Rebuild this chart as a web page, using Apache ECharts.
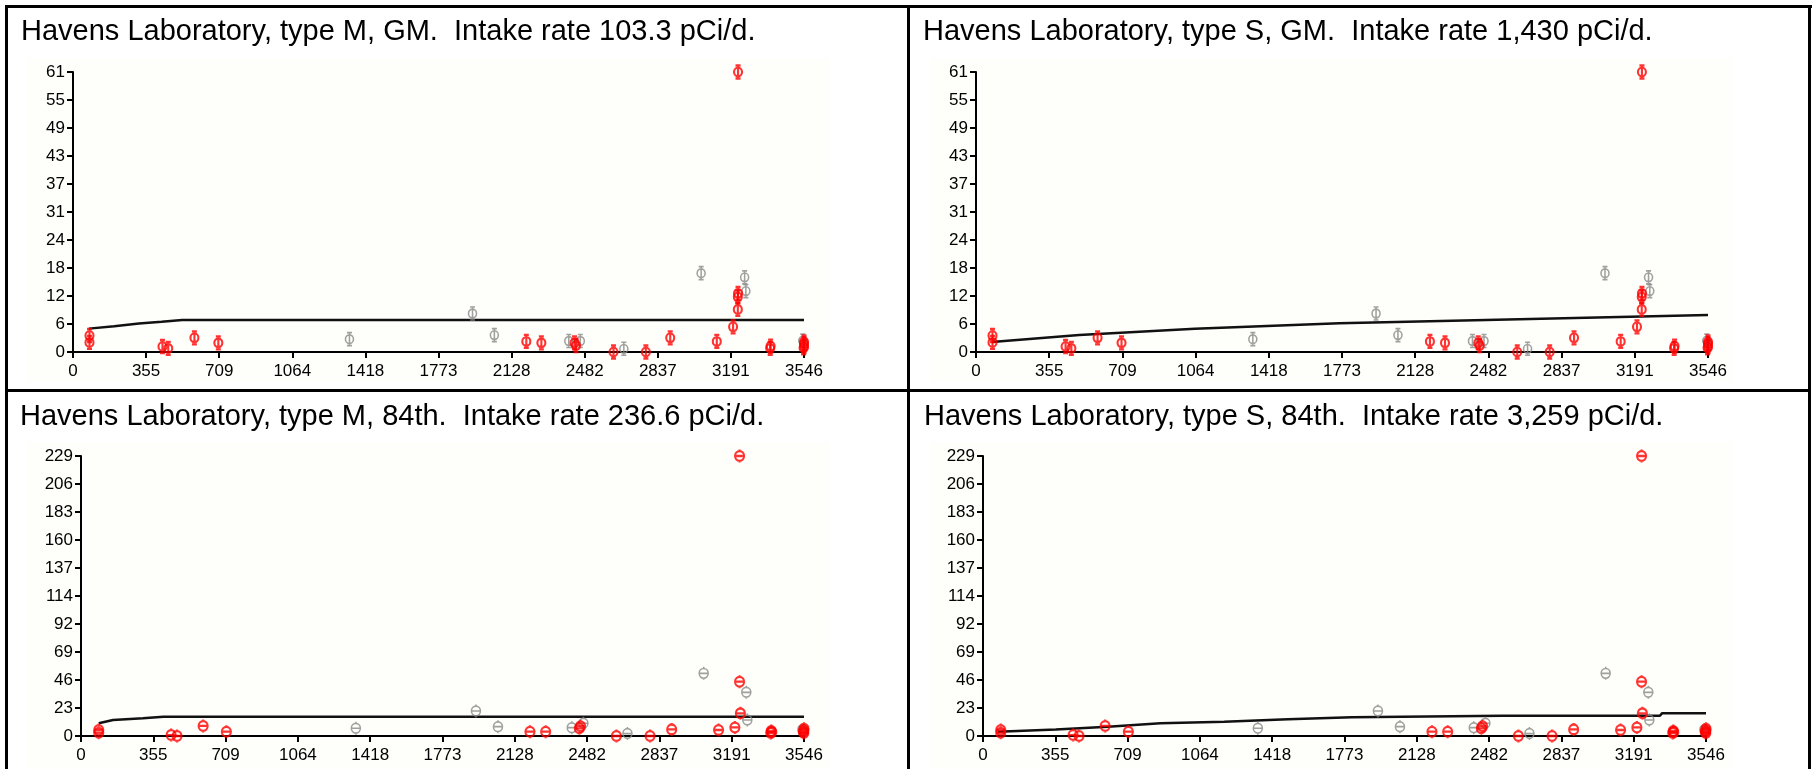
<!DOCTYPE html>
<html><head><meta charset="utf-8">
<script src="https://cdn.jsdelivr.net/npm/echarts/dist/echarts.min.js"></script>
<style>html,body{margin:0;padding:0;background:#fff}#c{width:1815px;height:769px}</style>
</head><body><div id="c"></div>
<script>
// ---- data ----
const titles = [
  'Havens Laboratory, type M, GM.  Intake rate 103.3 pCi/d.',
  'Havens Laboratory, type S, GM.  Intake rate 1,430 pCi/d.',
  'Havens Laboratory, type M, 84th.  Intake rate 236.6 pCi/d.',
  'Havens Laboratory, type S, 84th.  Intake rate 3,259 pCi/d.'
];
const xMax = 3546;
const yMaxGM = 61.1;
const yMax84 = 228.8;

// observations (GM): [time, value]
const gmRed = [
  [80, 3.6], [80, 2.1], [434, 1.2], [462, 0.8], [589, 3.1], [705, 2.0],
  [2199, 2.3], [2272, 2.0], [2433, 2.0], [2440, 1.4], [2622, 0], [2779, 0],
  [2897, 3.1], [3123, 2.3], [3202, 5.5], [3225, 9.3], [3225, 12.0], [3226, 12.8],
  [3226, 61.1], [3382, 0.8], [3384, 1.3], [3546, 1.2], [3546, 1.8], [3546, 2.2], [3544, 0.9]
];
const gmGrey = [
  [1341, 2.8], [1938, 8.4], [2044, 3.7], [2405, 2.4], [2461, 2.4], [2672, 0.7],
  [3047, 17.2], [3258, 16.3], [3264, 13.3], [3540, 2.5]
];
// observations (84th)
const p84Red = [
  [87, 4.9], [87, 2.7], [442, 0.8], [471, 0], [599, 8.2], [713, 3.5],
  [2202, 3.5], [2279, 3.5], [2444, 6.3], [2450, 8.0], [2626, 0], [2791, 0],
  [2897, 5.4], [3127, 4.9], [3207, 7.0], [3230, 228.8], [3230, 44.4], [3234, 18.5],
  [3383, 2.5], [3385, 4.0], [3388, 3.2], [3545, 2.5], [3545, 4.5], [3546, 6.0], [3543, 3.5]
];
const p84Grey = [
  [1348, 6.3], [1937, 20.4], [2045, 7.6], [2407, 6.8], [2464, 10.4], [2680, 2.0],
  [3054, 51.2], [3263, 35.7], [3268, 13.1], [3538, 5.2]
];
// model curves
const lineMGM = [[77, 5.1], [200, 5.6], [320, 6.2], [430, 6.6], [530, 7.0], [3546, 7.0]];
const lineSGM = [[77, 2.2], [500, 3.7], [1060, 5.1], [1760, 6.3], [2470, 7.0], [3170, 7.7], [3546, 8.1]];
const lineM84 = [[87, 10.4], [157, 13.1], [304, 14.5], [404, 15.8], [3546, 15.8]];
const lineS84 = [[73, 3.5], [357, 5.4], [613, 7.6], [870, 10.4], [1183, 11.7], [1496, 13.6], [1809, 15.3], [2549, 16.5], [3320, 16.5], [3330, 18.5], [3546, 18.5]];

// ---- layout ----
const symPhi = 'path://M-4,0A4,4 0 1,0 4,0A4,4 0 1,0 -4,0Z M0,-6L0,6 M-2.5,-6L2.5,-6 M-2.5,6L2.5,6';
const symTheta = 'path://M-4.5,0A4.5,4.5 0 1,0 4.5,0A4.5,4.5 0 1,0 -4.5,0Z M-4.5,0L4.5,0 M0,-6L0,-4.5 M0,4.5L0,6';
const FONT = '"Liberation Sans", Arial, sans-serif';

const panels = [
  {title: titles[0], tx: 21, ty: 32, grid: {left: 73, top: 72, width: 731, height: 280}, yMax: yMaxGM, red: gmRed, grey: gmGrey, line: lineMGM, sym: symPhi},
  {title: titles[1], tx: 923, ty: 32, grid: {left: 976, top: 72, width: 732, height: 280}, yMax: yMaxGM, red: gmRed, grey: gmGrey, line: lineSGM, sym: symPhi},
  {title: titles[2], tx: 20, ty: 417, grid: {left: 81, top: 456, width: 723, height: 280}, yMax: yMax84, red: p84Red, grey: p84Grey, line: lineM84, sym: symTheta},
  {title: titles[3], tx: 924, ty: 417, grid: {left: 983, top: 456, width: 723, height: 280}, yMax: yMax84, red: p84Red, grey: p84Grey, line: lineS84, sym: symTheta}
];

const grids = [], xAxes = [], yAxes = [], series = [], graphics = [];
const cream = '#fefefa';
[[27, 58, 803, 324], [930, 58, 803, 324], [27, 442, 803, 327], [930, 442, 803, 327]].forEach(r => {
  graphics.push({type: 'rect', shape: {x: r[0], y: r[1], width: r[2], height: r[3]}, style: {fill: cream}, z: 0});
});
// table borders
[[5, 5, 1807, 3], [5, 5, 3, 764], [1808, 5, 3, 764], [5, 389, 1806, 3], [907, 5, 3, 764]].forEach(r => {
  graphics.push({type: 'rect', shape: {x: r[0], y: r[1], width: r[2], height: r[3]}, style: {fill: '#000'}, z: 1});
});

const axisCommon = {
  axisLine: {show: true, onZero: false, lineStyle: {color: '#000', width: 2}},
  axisTick: {show: true, length: 6, lineStyle: {color: '#000', width: 2}},
  splitLine: {show: false}
};

panels.forEach((p, i) => {
  graphics.push({type: 'text', z: 2, style: {x: p.tx, y: p.ty, text: p.title, font: '29px ' + FONT, fill: '#000', verticalAlign: 'middle', align: 'left'}});
  grids.push(Object.assign({containLabel: false}, p.grid));
  xAxes.push(Object.assign({
    type: 'value', gridIndex: i, min: 0, max: xMax, interval: xMax / 10,
    axisLabel: {formatter: v => String(Math.round(v)), fontSize: 17, fontFamily: FONT, color: '#000', margin: 11, showMinLabel: true, showMaxLabel: true}
  }, axisCommon));
  yAxes.push(Object.assign({
    type: 'value', gridIndex: i, min: 0, max: p.yMax, interval: p.yMax / 10,
    axisLabel: {formatter: v => String(Math.round(v)), fontSize: 17, fontFamily: FONT, color: '#000', margin: 8, showMinLabel: true, showMaxLabel: true}
  }, axisCommon));
  series.push({
    type: 'line', xAxisIndex: i, yAxisIndex: i, data: p.line, showSymbol: false, symbol: 'none',
    lineStyle: {color: '#111', width: 2.5}, z: 2, silent: true, animation: false
  });
  series.push({
    type: 'scatter', xAxisIndex: i, yAxisIndex: i, data: p.grey, symbol: p.sym, symbolSize: [12, 13], symbolKeepAspect: true,
    itemStyle: {color: 'rgba(255,255,255,0)', borderColor: '#888888', borderWidth: 1.6}, z: 3, animation: false
  });
  series.push({
    type: 'scatter', xAxisIndex: i, yAxisIndex: i, data: p.red, symbol: p.sym, symbolSize: [12, 13], symbolKeepAspect: true,
    itemStyle: {color: 'rgba(255,255,255,0)', borderColor: '#ff0000', borderWidth: 2.2}, z: 4, animation: false
  });
});

const chart = echarts.init(document.getElementById('c'), null, {renderer: 'canvas'});
chart.setOption({
  animation: false,
  backgroundColor: '#fff',
  graphic: graphics,
  grid: grids,
  xAxis: xAxes,
  yAxis: yAxes,
  series: series
});
</script></body></html>
